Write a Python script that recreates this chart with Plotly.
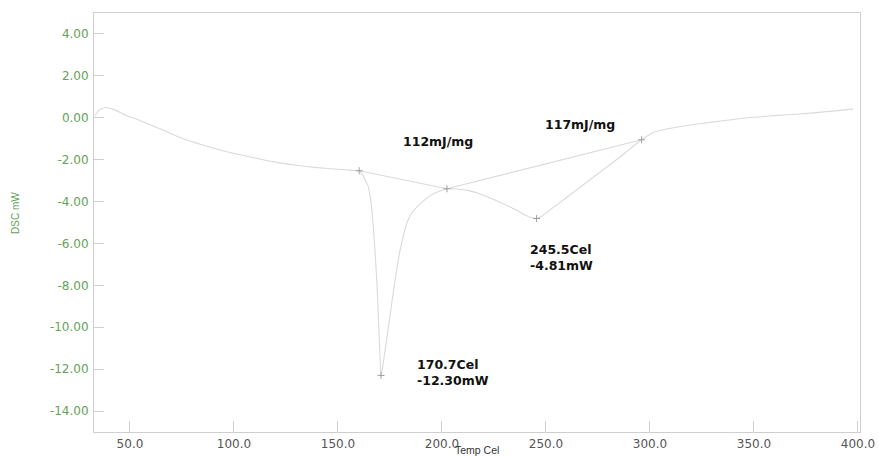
import plotly.graph_objects as go

# DSC scan: temperature (Cel) vs heat flow (mW)
temp = [33.2, 35, 38, 42, 48, 55, 65, 74, 85, 98, 110, 120, 130, 140, 150, 157,
        160.2, 162, 163.5, 164.5, 165.5, 166.2, 167, 167.8, 168.8, 169.7, 170.3,
        170.7, 171.5, 172.5, 174, 175.8, 177.4, 179.8, 181.5, 183, 185, 187.8,
        191, 194.2, 197.5, 200.5, 202.4, 207, 213.5, 220, 226.5, 232, 236, 240,
        242.5, 245.5, 248, 252, 258, 264, 271, 279, 285, 290, 296, 301.5, 310,
        324, 336, 348, 360, 372, 385, 397.6]
dsc = [0.10, 0.35, 0.49, 0.40, 0.12, -0.14, -0.55, -0.94, -1.30, -1.66, -1.92,
       -2.12, -2.27, -2.38, -2.46, -2.51,
       -2.53, -2.75, -3.05, -3.25, -3.80, -4.28, -5.24, -6.35, -8.0, -10.2, -11.6,
       -12.30, -11.9, -11.2, -10.2, -8.9, -7.8, -6.35, -5.6, -5.07, -4.62, -4.28,
       -3.98, -3.73, -3.56, -3.45, -3.39, -3.40, -3.49, -3.70, -3.97, -4.22, -4.42,
       -4.64, -4.75, -4.81, -4.70, -4.40, -3.95, -3.50, -2.97, -2.37, -1.92,
       -1.52, -1.05, -0.70, -0.50, -0.29, -0.13, 0.01, 0.10, 0.18, 0.29, 0.41]

# peak minima
peak_temp = [170.7, 245.5]
peak_dsc = [-12.30, -4.81]

# integration limits (baseline end points) for the two peaks
limit_temp = [160.2, 202.4, 296.0]
limit_dsc = [-2.53, -3.39, -1.05]

# peak enthalpies
enthalpy = ["112mJ/mg", "117mJ/mg"]

x_ticks = [50, 100, 150, 200, 250, 300, 350, 400]
y_ticks = [4, 2, 0, -2, -4, -6, -8, -10, -12, -14]

curve_color = "#dadada"
green = "#62a356"

fig = go.Figure()
fig.add_trace(go.Scatter(x=temp, y=dsc, mode="lines",
                         line=dict(color=curve_color, width=1.1, shape="spline", smoothing=0.5),
                         hoverinfo="skip"))
# baselines
fig.add_trace(go.Scatter(x=limit_temp, y=limit_dsc, mode="lines",
                         line=dict(color=curve_color, width=1.1), hoverinfo="skip"))
# point markers
fig.add_trace(go.Scatter(x=limit_temp + peak_temp, y=limit_dsc + peak_dsc, mode="markers",
                         marker=dict(symbol="cross-thin", size=5,
                                     line=dict(color="#a0a0a0", width=1)),
                         hoverinfo="skip"))

label_font = dict(family="DejaVu Sans", size=12.5, color="#111111", weight="bold")
ann = []
# enthalpy labels
ann.append(dict(x=198, y=-1.15, text=enthalpy[0], xanchor="center", yanchor="middle"))
ann.append(dict(x=266.5, y=-0.33, text=enthalpy[1], xanchor="center", yanchor="middle"))
# peak labels, offset below/right of each minimum
offsets = [(16.3, 0.15), (-4.2, -1.88)]
for t, v, (dx, dy) in zip(peak_temp, peak_dsc, offsets):
    ann.append(dict(x=t + dx, y=v + dy, text=f"{t:.1f}Cel<br>{v:.2f}mW",
                    xanchor="left", yanchor="middle", align="left"))
for a in ann:
    a.update(xref="x", yref="y", showarrow=False, font=label_font)

# axis titles, placed in pixels and converted to paper fractions
titles = [
    dict(px=477, py=450, text="Temp Cel", angle=0,
         font=dict(family="Liberation Sans", size=10.5, color="#333333")),
    dict(px=15, py=213, text="DSC mW", angle=-90,
         font=dict(family="Liberation Sans", size=10, color=green)),
]
for t in titles:
    ann.append(dict(x=(t["px"] - 94) / (860 - 94),
                    y=((457 - t["py"]) - 25) / (457 - 13 - 25),
                    xref="paper", yref="paper", text=t["text"], textangle=t["angle"],
                    xanchor="center", yanchor="middle", showarrow=False, font=t["font"]))

fig.update_layout(
    width=879, height=457,
    margin=dict(l=94, r=19, t=13, b=25, autoexpand=False),
    paper_bgcolor="white", plot_bgcolor="white",
    showlegend=False,
    annotations=ann,
    xaxis=dict(range=[32.7, 401], tickvals=x_ticks,
               ticktext=[f"{v:.1f}" for v in x_ticks],
               ticks="inside", ticklen=11, tickcolor="#d0d0d0", tickwidth=1,
               ticklabelstandoff=1, automargin=False,
               showline=True, linecolor="#cfcfcf", linewidth=1, mirror=True,
               showgrid=False, zeroline=False,
               tickfont=dict(family="DejaVu Sans", size=12, color="#555555")),
    yaxis=dict(range=[-15, 5], tickvals=y_ticks,
               ticktext=[f"{v:.2f}" for v in y_ticks],
               ticks="inside", ticklen=10, tickcolor="#d0d0d0", tickwidth=1,
               ticklabelstandoff=2, automargin=False,
               showline=True, linecolor="#cfcfcf", linewidth=1, mirror=True,
               showgrid=False, zeroline=False,
               tickfont=dict(family="DejaVu Sans", size=12, color=green)),
)

fig.write_html("out.html")
